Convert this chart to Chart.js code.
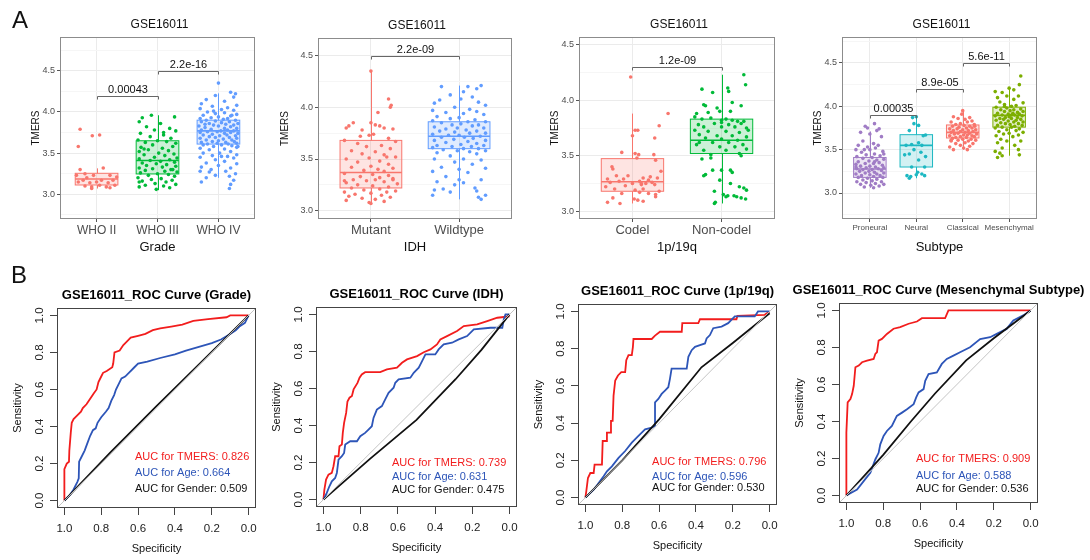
<!DOCTYPE html>
<html>
<head>
<meta charset="utf-8">
<script src="https://cdn.jsdelivr.net/npm/chart.js@4.4.0/dist/chart.umd.min.js"></script>
<style>
    body { margin: 0; background: #fff; width: 1090px; height: 560px; position: relative; overflow: hidden; }
    canvas { position: absolute; left: 0; top: 0; }
</style>
</head>
<body>
<canvas id="a1" width="1090" height="560"></canvas>
<canvas id="a2" width="1090" height="560"></canvas>
<canvas id="a3" width="1090" height="560"></canvas>
<canvas id="a4" width="1090" height="560"></canvas>
<canvas id="b1" width="1090" height="560"></canvas>
<canvas id="b2" width="1090" height="560"></canvas>
<canvas id="b3" width="1090" height="560"></canvas>
<canvas id="b4" width="1090" height="560"></canvas>
<script>
// ---------- A: TMERS boxplots ----------
var yMajor = [3.0, 3.5, 4.0, 4.5];
var yMinor = [2.75, 3.25, 3.75, 4.25, 4.75];

// box stats: [lower whisker, q1, median, q3, upper whisker]
var gradeCats = ['WHO II', 'WHO III', 'WHO IV'];
var gradeColors = ['#F8766D', '#00BA38', '#619CFF'];
var gradeBox = [[3.07, 3.113, 3.186, 3.255, 3.315], [3.05, 3.247, 3.41, 3.65, 3.96], [3.2, 3.61, 3.77, 3.9, 4.225]];
var gradeSig = [[1, 2, 4.197, '0.00043'], [2, 3, 4.5, '2.2e-16']];
// points: [jitter, TMERS]
var whoII = [[-0.27,3.79],[-0.3,3.58],[-0.07,3.71],[0.05,3.72],[-0.27,3.3],[0.11,3.32],[-0.19,3.25],[-0.33,3.23],[-0.05,3.23],[0.22,3.23],[-0.22,3.17],[-0.3,3.15],[-0.11,3.14],[0,3.15],[0.08,3.17],[0.19,3.14],[0.27,3.17],[-0.19,3.1],[-0.08,3.09],[0.05,3.11],[0.16,3.09],[0.3,3.11],[-0.08,3.07],[0.22,3.08],[-0.16,3.2],[0.33,3.21]];
var whoIII = [[-0.25,3.93],[-0.1,3.96],[0.28,3.94],[-0.3,3.88],[0.05,3.86],[-0.18,3.82],[0.2,3.8],[-0.05,3.78],[0.3,3.77],[-0.28,3.74],[0.1,3.72],[-0.12,3.7],[0.22,3.68],[-0.32,3.66],[0,3.65],[0.15,3.64],[-0.2,3.63],[0.3,3.62],[-0.08,3.6],[0.25,3.58],[-0.27,3.57],[0.08,3.56],[-0.15,3.54],[0.18,3.53],[-0.3,3.52],[0.02,3.5],[0.27,3.49],[-0.22,3.48],[0.12,3.47],[-0.05,3.45],[0.32,3.44],[-0.3,3.43],[0.2,3.42],[-0.12,3.41],[0.05,3.4],[0.28,3.39],[-0.25,3.38],[-0.02,3.37],[0.15,3.36],[-0.18,3.35],[0.3,3.34],[0.08,3.33],[-0.3,3.32],[-0.08,3.31],[0.22,3.3],[-0.2,3.29],[0.12,3.28],[0.32,3.27],[-0.28,3.26],[0,3.25],[0.18,3.24],[-0.15,3.23],[0.28,3.22],[-0.32,3.2],[0.06,3.19],[-0.1,3.18],[0.24,3.17],[-0.25,3.16],[0.14,3.15],[-0.04,3.13],[0.3,3.12],[-0.2,3.11],[0.1,3.1],[-0.3,3.09],[0.2,3.08],[-0.02,3.06],[0.25,3.3],[-0.22,3.55],[0.1,3.75],[-0.3,3.15]];
var whoIV = [[0,4.35],[0.2,4.24],[0.28,4.22],[-0.05,4.2],[0.25,4.18],[-0.2,4.15],[0.1,4.13],[-0.28,4.1],[0.3,4.08],[-0.1,4.07],[0.15,4.05],[-0.3,4.04],[0.05,4.03],[0.25,4.02],[-0.18,4],[0.1,3.99],[-0.05,3.98],[0.3,3.97],[-0.25,3.96],[0.2,3.95],[0,3.94],[-0.12,3.93],[0.15,3.92],[-0.3,3.92],[0.08,3.91],[0.28,3.9],[-0.2,3.9],[-0.05,3.89],[0.18,3.88],[-0.28,3.88],[0.05,3.87],[0.32,3.86],[-0.15,3.86],[0.12,3.85],[-0.08,3.84],[0.25,3.84],[-0.32,3.83],[0,3.83],[0.2,3.82],[-0.22,3.81],[0.1,3.8],[0.3,3.8],[-0.12,3.79],[0.15,3.78],[-0.28,3.78],[0.04,3.77],[0.25,3.77],[-0.18,3.76],[-0.02,3.76],[0.2,3.75],[-0.3,3.75],[0.1,3.74],[0.32,3.74],[-0.1,3.73],[0.14,3.72],[-0.25,3.72],[0.02,3.71],[0.28,3.71],[-0.15,3.7],[0.18,3.69],[-0.05,3.69],[0.3,3.68],[-0.3,3.68],[0.08,3.67],[-0.2,3.66],[0.22,3.66],[0,3.65],[-0.1,3.64],[0.26,3.64],[-0.28,3.63],[0.12,3.63],[-0.02,3.62],[0.3,3.62],[-0.18,3.61],[0.16,3.61],[0.05,3.6],[-0.25,3.6],[0.22,3.59],[-0.08,3.58],[0.3,3.57],[-0.3,3.56],[0.1,3.55],[-0.15,3.54],[0.2,3.52],[-0.25,3.5],[0.02,3.5],[0.3,3.48],[-0.1,3.47],[0.15,3.46],[-0.3,3.45],[0.25,3.44],[-0.05,3.42],[0.1,3.4],[-0.2,3.38],[0.3,3.37],[0,3.35],[-0.28,3.33],[0.2,3.32],[-0.12,3.3],[0.12,3.28],[-0.3,3.28],[0.28,3.25],[-0.05,3.23],[0.18,3.22],[-0.2,3.2],[0.25,3.17],[-0.28,3.15],[0.2,3.12],[0.18,3.07],[-0.15,3.27],[0.05,3.46],[0.32,3.58],[-0.22,3.85],[0.22,3.96],[-0.08,4.01]];

var idhCats = ['Mutant', 'Wildtype'];
var idhColors = ['#F8766D', '#619CFF'];
var idhBox = [[3.07, 3.22, 3.37, 3.68, 4.36], [3.11, 3.6, 3.72, 3.86, 4.21]];
var idhSig = [[1, 2, 4.5, '2.2e-09']];
var mutant = [[0,4.35],[0.2,4.08],[0.23,4.02],[0.22,4],[0.08,3.95],[-0.25,3.82],[-0.2,3.85],[-0.28,3.8],[0,3.85],[0.05,3.83],[0.1,3.82],[0.15,3.8],[0.25,3.79],[-0.1,3.78],[0.03,3.74],[-0.02,3.73],[-0.12,3.72],[0.2,3.7],[-0.3,3.68],[0.28,3.67],[-0.15,3.65],[0.12,3.63],[-0.05,3.62],[0.22,3.6],[-0.22,3.58],[0.05,3.57],[-0.1,3.55],[0.15,3.54],[0.28,3.52],[-0.02,3.51],[-0.28,3.5],[0.1,3.48],[-0.15,3.47],[0.2,3.45],[0,3.43],[-0.22,3.42],[0.25,3.41],[0.08,3.4],[-0.08,3.39],[0.15,3.38],[-0.3,3.36],[0.02,3.35],[0.2,3.34],[-0.12,3.33],[0.1,3.32],[0.25,3.31],[-0.2,3.3],[0.05,3.3],[-0.05,3.29],[0.15,3.28],[-0.28,3.27],[0.3,3.26],[-0.15,3.25],[0.02,3.24],[0.2,3.23],[-0.22,3.22],[0.1,3.21],[-0.08,3.2],[0.28,3.19],[-0.3,3.18],[0.18,3.18],[0,3.17],[-0.18,3.16],[0.12,3.15],[-0.25,3.14],[0.22,3.13],[-0.1,3.12],[0.05,3.11],[-0.28,3.1],[0.15,3.09],[-0.02,3.08],[0,3.07],[0.25,3.3],[-0.3,3.29],[0.18,3.52]];
var wildtype = [[-0.2,4.2],[0.1,4.2],[0.25,4.21],[0.2,4.18],[0.05,4.15],[-0.1,4.12],[0.15,4.1],[0.02,4.08],[-0.22,4.07],[0.22,4.05],[-0.28,4.04],[0.3,4.02],[-0.05,4],[0.12,3.98],[-0.3,3.97],[0.2,3.96],[-0.15,3.95],[0.05,3.94],[0.28,3.93],[-0.25,3.91],[0,3.9],[-0.1,3.89],[0.18,3.88],[-0.3,3.87],[0.1,3.86],[0.3,3.86],[-0.2,3.85],[0.02,3.84],[-0.08,3.83],[0.22,3.83],[0.15,3.82],[-0.28,3.81],[-0.02,3.8],[0.28,3.8],[-0.15,3.79],[0.08,3.78],[0.2,3.77],[-0.22,3.77],[-0.05,3.76],[0.3,3.75],[0.12,3.75],[-0.3,3.74],[0,3.73],[-0.12,3.73],[0.24,3.72],[0.06,3.71],[-0.2,3.71],[0.16,3.7],[-0.06,3.69],[0.3,3.68],[-0.28,3.68],[0.1,3.67],[-0.15,3.66],[0.2,3.65],[0.02,3.64],[-0.25,3.63],[0.28,3.63],[-0.08,3.62],[0.14,3.62],[-0.3,3.61],[0.05,3.6],[0.22,3.6],[-0.18,3.59],[0.3,3.58],[-0.02,3.58],[0.12,3.57],[-0.25,3.56],[0.2,3.55],[-0.1,3.53],[0.05,3.5],[-0.28,3.5],[0.25,3.49],[-0.05,3.47],[0.15,3.45],[-0.2,3.42],[0.3,3.41],[0,3.4],[-0.3,3.38],[0.1,3.37],[-0.15,3.33],[0.25,3.3],[-0.25,3.28],[0.05,3.27],[-0.05,3.25],[0.18,3.22],[-0.28,3.2],[0.2,3.19],[-0.1,3.18],[0.3,3.15],[0.22,3.13],[-0.3,3.15],[0.25,3.11],[0,3.3],[-0.18,3.21]];

var codelCats = ['Codel', 'Non-codel'];
var codelColors = ['#F8766D', '#00BA38'];
var codelBox = [[3.07, 3.18, 3.266, 3.474, 3.88], [3.07, 3.52, 3.64, 3.83, 4.23]];
var codelSig = [[1, 2, 4.298, '1.2e-09']];
var codel = [[-0.02,4.21],[0.4,3.88],[0.3,3.77],[0.03,3.73],[0.06,3.73],[0,3.68],[0.25,3.66],[-0.12,3.53],[0.03,3.52],[0.07,3.51],[0.24,3.51],[0.26,3.46],[0.05,3.48],[-0.23,3.4],[-0.22,3.38],[-0.28,3.29],[-0.18,3.32],[-0.05,3.32],[0.12,3.3],[0.2,3.31],[0.28,3.3],[0.32,3.36],[-0.25,3.26],[-0.15,3.27],[0,3.25],[0.08,3.27],[0.18,3.28],[0.22,3.26],[-0.3,3.22],[-0.08,3.23],[0.1,3.24],[0.15,3.25],[0.25,3.24],[-0.2,3.2],[0.03,3.19],[0.12,3.2],[0.3,3.18],[-0.12,3.16],[0.08,3.17],[0.18,3.16],[0.26,3.15],[-0.22,3.12],[0.02,3.11],[0.06,3.1],[0.12,3.09],[0.26,3.13],[-0.28,3.08],[-0.14,3.07],[0.1,3.25],[-0.1,3.29]];
var nonCodel = [[0.25,4.23],[0.27,4.14],[-0.22,4.1],[0.07,4.11],[0.08,4.08],[-0.1,4.07],[0.12,3.98],[0.22,3.95],[-0.2,3.96],[-0.18,3.95],[-0.05,3.93],[-0.02,3.9],[0.1,3.9],[-0.28,3.88],[-0.15,3.89],[-0.3,3.85],[-0.22,3.83],[-0.12,3.84],[0,3.82],[0.05,3.83],[0.12,3.82],[0.18,3.81],[0.25,3.81],[-0.26,3.78],[-0.08,3.79],[0.08,3.78],[0.22,3.79],[-0.2,3.76],[0,3.76],[0.15,3.76],[0.28,3.75],[-0.3,3.73],[-0.15,3.72],[0.05,3.72],[0.2,3.71],[-0.25,3.69],[-0.05,3.68],[0.12,3.68],[0.28,3.67],[-0.18,3.66],[0,3.65],[0.18,3.64],[-0.1,3.62],[0.08,3.62],[0.24,3.6],[-0.28,3.6],[-0.02,3.58],[0.15,3.58],[0.28,3.56],[-0.2,3.55],[0.05,3.55],[0.2,3.52],[-0.12,3.51],[0.22,3.5],[-0.22,3.47],[-0.12,3.48],[-0.2,3.32],[-0.18,3.33],[0.1,3.37],[-0.1,3.37],[-0.02,3.28],[0.12,3.35],[0.1,3.25],[0.2,3.22],[0.25,3.21],[0.28,3.19],[-0.08,3.18],[0.02,3.15],[0.07,3.14],[0.14,3.14],[0.17,3.13],[0.22,3.12],[0.27,3.11],[0.05,3.13],[-0.07,3.08],[-0.08,3.07],[0,3.37],[-0.25,3.62],[0.3,3.73],[0,3.8]];

var subtypeCats = ['Proneural', 'Neural', 'Classical', 'Mesenchymal'];
var subtypeColors = ['#A07CC5', '#1DB8C2', '#F8766D', '#7CAE00'];
var subtypeBox = [[3.06, 3.18, 3.277, 3.41, 3.71], [3.17, 3.3, 3.55, 3.673, 3.9], [3.5, 3.635, 3.7, 3.785, 3.96], [3.43, 3.76, 3.896, 3.99, 4.2]];
var subtypeSig = [[1, 2, 3.9, '0.00035'], [2, 3, 4.2, '8.9e-05'], [3, 4, 4.5, '5.6e-11']];
var proneural = [[0.1,3.8],[-0.1,3.77],[-0.05,3.75],[0.2,3.74],[0.15,3.72],[-0.2,3.7],[0,3.68],[0.25,3.65],[-0.15,3.6],[0.08,3.57],[-0.25,3.55],[0.18,3.55],[-0.05,3.53],[0.12,3.52],[-0.3,3.5],[0,3.5],[0.28,3.48],[-0.18,3.47],[0.1,3.45],[-0.08,3.44],[0.22,3.43],[-0.28,3.42],[0.05,3.41],[-0.15,3.4],[0.3,3.39],[0.15,3.38],[-0.02,3.37],[-0.25,3.36],[0.2,3.35],[0.08,3.34],[-0.1,3.34],[-0.3,3.33],[0.27,3.32],[0,3.31],[-0.2,3.31],[0.12,3.3],[0.3,3.29],[-0.08,3.29],[-0.28,3.28],[0.18,3.28],[0.05,3.27],[-0.15,3.27],[0.25,3.26],[-0.02,3.25],[-0.22,3.25],[0.1,3.24],[0.3,3.23],[-0.1,3.23],[-0.3,3.22],[0.15,3.22],[0,3.21],[-0.18,3.2],[0.22,3.2],[0.08,3.19],[-0.25,3.18],[0.28,3.18],[-0.05,3.17],[0.15,3.16],[-0.15,3.15],[0.05,3.14],[0.25,3.13],[-0.28,3.13],[-0.08,3.12],[0.12,3.11],[0.3,3.1],[-0.2,3.1],[0.02,3.09],[0.2,3.08],[-0.12,3.07],[0.08,3.06],[0.1,3.36],[-0.12,3.5],[0.3,3.45],[-0.3,3.3]];
var neural = [[0,3.88],[-0.08,3.87],[-0.05,3.8],[0.05,3.78],[-0.15,3.72],[0.2,3.67],[0.15,3.66],[-0.22,3.55],[-0.1,3.56],[0.05,3.58],[0.12,3.55],[-0.05,3.5],[-0.15,3.45],[0.1,3.47],[0.2,3.42],[-0.25,3.44],[0.05,3.38],[-0.1,3.3],[0.18,3.3],[0.03,3.24],[-0.2,3.2],[-0.12,3.19],[0.12,3.22],[-0.15,3.17],[0.18,3.2],[0,3.21]];
var classical = [[0,3.95],[-0.02,3.91],[-0.2,3.88],[0.15,3.87],[-0.1,3.86],[0.05,3.85],[0.2,3.83],[-0.25,3.82],[0.1,3.82],[-0.05,3.8],[-0.15,3.79],[0.25,3.79],[0.03,3.78],[-0.22,3.77],[0.15,3.77],[-0.08,3.76],[0.2,3.75],[0.08,3.75],[-0.28,3.74],[-0.12,3.74],[0,3.73],[0.28,3.73],[-0.2,3.72],[0.12,3.72],[-0.05,3.71],[0.22,3.71],[0.05,3.7],[-0.25,3.7],[-0.1,3.69],[0.15,3.69],[0.3,3.68],[-0.18,3.68],[0.02,3.67],[0.1,3.67],[-0.28,3.66],[0.2,3.66],[-0.05,3.65],[0.25,3.65],[-0.15,3.64],[0.08,3.64],[-0.22,3.63],[0.18,3.62],[0,3.62],[-0.1,3.61],[0.28,3.61],[0.12,3.6],[-0.25,3.6],[0.05,3.58],[-0.15,3.57],[0.22,3.57],[-0.05,3.55],[0.15,3.54],[-0.28,3.53],[0.02,3.52],[-0.2,3.5],[0.1,3.5],[-0.25,3.61],[0.26,3.77]];
var mesenchymal = [[0.25,4.35],[0.22,4.25],[0,4.21],[0.1,4.19],[-0.3,4.17],[-0.15,4.16],[-0.05,4.12],[0.2,4.12],[-0.25,4.1],[0.1,4.08],[-0.2,4.05],[0.3,4.04],[-0.1,4.02],[0.15,4.01],[0.05,4],[-0.28,3.99],[-0.05,3.98],[0.25,3.97],[0.1,3.96],[-0.18,3.96],[0.02,3.95],[0.3,3.94],[-0.1,3.94],[0.18,3.93],[-0.25,3.92],[0.08,3.92],[-0.02,3.91],[0.22,3.91],[-0.15,3.9],[0.12,3.9],[0.28,3.89],[-0.3,3.89],[0,3.88],[-0.08,3.87],[0.18,3.87],[-0.2,3.86],[0.05,3.86],[0.25,3.85],[-0.12,3.85],[0.15,3.84],[-0.28,3.84],[-0.02,3.83],[0.3,3.82],[0.1,3.82],[-0.18,3.81],[0.2,3.8],[-0.08,3.8],[0.02,3.79],[-0.25,3.78],[0.28,3.78],[0.12,3.77],[-0.15,3.76],[0.05,3.76],[-0.3,3.75],[0.22,3.74],[-0.05,3.73],[0.15,3.72],[-0.22,3.71],[0.3,3.7],[0,3.69],[-0.12,3.68],[0.2,3.67],[-0.28,3.66],[0.08,3.65],[-0.18,3.62],[0.25,3.6],[-0.05,3.6],[-0.25,3.58],[0.12,3.55],[-0.15,3.52],[0.2,3.5],[-0.3,3.48],[-0.2,3.46],[-0.15,3.43],[0.22,3.44],[-0.25,3.41],[0.05,3.9],[-0.1,4]];

// ---------- B: ROC curves, [specificity, sensitivity] ----------
var rocTicks = [1.0, 0.8, 0.6, 0.4, 0.2, 0.0];
var rocDiagonal = [[1.04, -0.04], [-0.04, 1.04]];
var rocNames = ['TMERS', 'Age', 'Gender'];

var gradeTmers = [[1,0],[1,0.17],[0.987,0.2],[0.975,0.21],[0.973,0.27],[0.965,0.37],[0.96,0.42],[0.95,0.44],[0.93,0.46],[0.91,0.48],[0.9,0.5],[0.88,0.52],[0.86,0.55],[0.84,0.58],[0.825,0.6],[0.815,0.64],[0.8,0.67],[0.79,0.69],[0.77,0.7],[0.74,0.72],[0.735,0.74],[0.728,0.8],[0.7,0.81],[0.68,0.84],[0.66,0.86],[0.64,0.88],[0.6,0.89],[0.56,0.9],[0.52,0.92],[0.48,0.93],[0.42,0.94],[0.36,0.95],[0.3,0.97],[0.22,0.98],[0.12,0.99],[0.1,1],[0,1]];
var gradeAge = [[1,0],[0.97,0.03],[0.95,0.06],[0.93,0.1],[0.922,0.12],[0.92,0.21],[0.91,0.23],[0.89,0.27],[0.875,0.31],[0.86,0.35],[0.845,0.38],[0.83,0.39],[0.82,0.42],[0.8,0.45],[0.775,0.48],[0.76,0.5],[0.745,0.54],[0.73,0.57],[0.72,0.6],[0.7,0.64],[0.69,0.66],[0.67,0.67],[0.65,0.69],[0.62,0.72],[0.6,0.74],[0.55,0.75],[0.48,0.77],[0.4,0.79],[0.34,0.81],[0.27,0.83],[0.2,0.85],[0.15,0.87],[0.1,0.9],[0.07,0.92],[0.05,0.94],[0.02,0.96],[0.01,0.98],[0,1]];
var gradeGender = [[1,0],[0.75,0.26],[0.5,0.51],[0.25,0.755],[0,1]];
var gradeAuc = [0.826, 0.664, 0.509];

var idhTmers = [[1,0],[0.995,0.054],[0.986,0.108],[0.973,0.135],[0.955,0.144],[0.946,0.18],[0.937,0.234],[0.919,0.234],[0.914,0.288],[0.901,0.297],[0.896,0.36],[0.889,0.414],[0.878,0.468],[0.871,0.53],[0.86,0.55],[0.847,0.559],[0.838,0.595],[0.817,0.63],[0.806,0.658],[0.794,0.676],[0.776,0.688],[0.695,0.688],[0.659,0.703],[0.605,0.712],[0.578,0.739],[0.551,0.757],[0.497,0.775],[0.461,0.796],[0.425,0.811],[0.39,0.838],[0.372,0.865],[0.336,0.883],[0.282,0.91],[0.246,0.937],[0.174,0.946],[0.12,0.964],[0.066,0.982],[0.03,0.986],[0,0.99]];
var idhAge = [[1,0],[0.982,0.036],[0.968,0.072],[0.955,0.099],[0.937,0.117],[0.928,0.144],[0.919,0.216],[0.901,0.234],[0.889,0.252],[0.883,0.297],[0.856,0.315],[0.82,0.315],[0.802,0.342],[0.776,0.36],[0.758,0.378],[0.74,0.396],[0.731,0.441],[0.713,0.486],[0.686,0.505],[0.668,0.541],[0.65,0.577],[0.623,0.604],[0.614,0.631],[0.596,0.649],[0.533,0.658],[0.515,0.685],[0.488,0.712],[0.47,0.748],[0.452,0.784],[0.399,0.784],[0.381,0.811],[0.354,0.838],[0.309,0.847],[0.273,0.865],[0.228,0.883],[0.192,0.919],[0.102,0.928],[0.039,0.928],[0.031,0.973],[0.022,1],[0,1]];
var idhGender = [[1,0],[0.75,0.22],[0.5,0.43],[0.29,0.65],[0.15,0.81],[0,1]];
var idhAuc = [0.739, 0.631, 0.475];

var codelTmers = [[1,0],[0.995,0.033],[0.986,0.105],[0.973,0.132],[0.955,0.132],[0.95,0.177],[0.91,0.177],[0.906,0.304],[0.888,0.304],[0.883,0.349],[0.865,0.349],[0.861,0.412],[0.852,0.412],[0.847,0.548],[0.838,0.629],[0.823,0.656],[0.805,0.674],[0.784,0.674],[0.778,0.738],[0.766,0.765],[0.748,0.765],[0.742,0.81],[0.739,0.852],[0.64,0.852],[0.622,0.87],[0.595,0.891],[0.477,0.891],[0.474,0.937],[0.387,0.937],[0.378,0.958],[0.18,0.958],[0.175,0.976],[0.027,0.982],[0,1]];
var codelAge = [[1,0],[0.955,0.042],[0.928,0.078],[0.901,0.114],[0.883,0.141],[0.856,0.168],[0.82,0.213],[0.784,0.25],[0.748,0.295],[0.712,0.331],[0.676,0.367],[0.64,0.376],[0.622,0.385],[0.622,0.512],[0.604,0.53],[0.586,0.557],[0.568,0.575],[0.55,0.593],[0.541,0.638],[0.532,0.693],[0.45,0.693],[0.441,0.756],[0.423,0.792],[0.405,0.81],[0.378,0.819],[0.351,0.828],[0.342,0.855],[0.324,0.873],[0.306,0.91],[0.261,0.919],[0.225,0.937],[0.189,0.973],[0.081,0.973],[0.063,1],[0,1]];
var codelGender = [[1,0],[0.8,0.2],[0.6,0.42],[0.37,0.7],[0.2,0.83],[0,0.99]];
var codelAuc = [0.796, 0.596, 0.530];

var mesTmers = [[1,0],[1,0.34],[0.993,0.503],[0.978,0.521],[0.969,0.548],[0.96,0.593],[0.951,0.693],[0.933,0.702],[0.915,0.72],[0.888,0.729],[0.852,0.738],[0.843,0.765],[0.834,0.774],[0.825,0.837],[0.807,0.846],[0.78,0.873],[0.744,0.901],[0.708,0.91],[0.662,0.928],[0.617,0.94],[0.59,0.958],[0.464,0.958],[0.446,1],[0,1]];
var mesAge = [[1,0],[0.942,0.033],[0.906,0.078],[0.87,0.123],[0.843,0.195],[0.825,0.231],[0.816,0.277],[0.798,0.322],[0.78,0.349],[0.753,0.376],[0.726,0.43],[0.698,0.448],[0.671,0.466],[0.635,0.494],[0.621,0.53],[0.608,0.557],[0.581,0.575],[0.572,0.62],[0.554,0.656],[0.509,0.665],[0.482,0.711],[0.455,0.738],[0.419,0.756],[0.383,0.774],[0.329,0.801],[0.274,0.845],[0.22,0.855],[0.184,0.873],[0.13,0.9],[0.094,0.946],[0.04,0.973],[0,1]];
var mesGender = [[1,0],[0.8,0.22],[0.65,0.4],[0.52,0.55],[0.35,0.73],[0.2,0.85],[0,1]];
var mesAuc = [0.909, 0.588, 0.536];

var SANS = '"Liberation Sans", Arial, sans-serif';

function rgba(hex, a) {
    var n = parseInt(hex.slice(1), 16);
    return 'rgba(' + (n >> 16) + ',' + ((n >> 8) & 255) + ',' + (n & 255) + ',' + a + ')';
}

function text(ctx, str, x, y, font, color, align, rot) {
    ctx.save();
    ctx.translate(x, y);
    if (rot) ctx.rotate(rot);
    ctx.font = font;
    ctx.fillStyle = color;
    ctx.textAlign = align || 'center';
    ctx.textBaseline = 'middle';
    ctx.fillText(str, 0, 0);
    ctx.restore();
}

function line(ctx, x0, y0, x1, y1) {
    ctx.beginPath();
    ctx.moveTo(x0, y0);
    ctx.lineTo(x1, y1);
    ctx.stroke();
}

function isMajor(v) {
    return yMajor.indexOf(v) >= 0;
}

function boxPanel(id, p) {
    var a = p.area;
    var n = p.cats.length;
    var datasets = p.pts.map(function (grp, g) {
        return {
            data: grp.map(function (q) { return { x: g + 1 + q[0], y: q[1] }; }),
            backgroundColor: p.colors[g],
            borderWidth: 0,
            pointRadius: 1.8
        };
    });

    var deco = {
        id: 'deco_' + id,
        beforeDatasetsDraw: function (chart) {
            var ctx = chart.ctx, xs = chart.scales.x, ys = chart.scales.y;
            p.box.forEach(function (b, g) {
                var c = g + 1;
                var x0 = xs.getPixelForValue(c - 0.35), x1 = xs.getPixelForValue(c + 0.35), xm = Math.round(xs.getPixelForValue(c)) + 0.5;
                var y = b.map(function (v) { return ys.getPixelForValue(v); });
                ctx.save();
                ctx.strokeStyle = p.colors[g];
                ctx.lineWidth = 1;
                line(ctx, xm, y[0], xm, y[1]);
                line(ctx, xm, y[3], xm, y[4]);
                ctx.fillStyle = rgba(p.colors[g], 0.2);
                ctx.fillRect(x0, y[3], x1 - x0, y[1] - y[3]);
                ctx.strokeRect(x0, y[3], x1 - x0, y[1] - y[3]);
                ctx.lineWidth = 1.6;
                line(ctx, x0, y[2], x1, y[2]);
                ctx.restore();
            });
        },
        afterDraw: function (chart) {
            var ctx = chart.ctx, xs = chart.scales.x, ys = chart.scales.y, ca = chart.chartArea;
            ctx.save();
            ctx.strokeStyle = '#8C8C8C';
            ctx.lineWidth = 1;
            ctx.strokeRect(ca.left + 0.5, ca.top + 0.5, ca.right - ca.left - 1, ca.bottom - ca.top - 1);
            // comparison brackets
            ctx.strokeStyle = '#666';
            p.sig.forEach(function (s) {
                var xa = Math.round(xs.getPixelForValue(s[0])) + 0.5, xb = Math.round(xs.getPixelForValue(s[1])) + 0.5;
                var yy = Math.round(ys.getPixelForValue(s[2])) + 0.5;
                ctx.beginPath();
                ctx.moveTo(xa, yy + 3);
                ctx.lineTo(xa, yy);
                ctx.lineTo(xb, yy);
                ctx.lineTo(xb, yy + 3);
                ctx.stroke();
                text(ctx, s[3], (xa + xb) / 2, yy - 7, '11px ' + SANS, '#111');
            });
            ctx.restore();
            var cx = (ca.left + ca.right) / 2;
            text(ctx, 'GSE16011', cx + 2, ca.top - 12, '12px ' + SANS, '#111');
            text(ctx, p.xTitle, cx, ca.bottom + 28, '13px ' + SANS, '#111');
            text(ctx, 'TMERS', ca.left - p.yTitleDx, (ca.top + ca.bottom) / 2, '10px ' + SANS, '#111', 'center', -Math.PI / 2);
            if (p.letter) text(ctx, p.letter, 12, 21, '24px ' + SANS, '#111', 'left');
        }
    };

    new Chart(document.getElementById(id), {
        type: 'scatter',
        data: { datasets: datasets },
        options: {
            responsive: false,
            animation: false,
            events: [],
            layout: { padding: { left: a.l - 40, top: a.t, right: 1090 - a.r, bottom: 560 - a.b - 22 } },
            plugins: { legend: { display: false }, tooltip: { enabled: false } },
            scales: {
                x: {
                    type: 'linear',
                    min: 0.4,
                    max: n + 0.6,
                    afterBuildTicks: function (s) {
                        s.ticks = p.cats.map(function (c, i) { return { value: i + 1 }; });
                    },
                    afterFit: function (s) { s.height = 22; },
                    ticks: {
                        autoSkip: false,
                        maxRotation: 0,
                        padding: 1,
                        color: '#4D4D4D',
                        font: { family: SANS, size: p.catSize },
                        callback: function (v) { return p.cats[Math.round(v) - 1]; }
                    },
                    grid: { color: '#EBEBEB', tickColor: '#555', tickLength: 3 },
                    border: { display: false }
                },
                y: {
                    type: 'linear',
                    min: p.yMin,
                    max: p.yMax,
                    afterBuildTicks: function (s) {
                        s.ticks = yMajor.concat(yMinor).filter(function (v) { return v >= p.yMin && v <= p.yMax; })
                            .sort(function (u, w) { return u - w; })
                            .map(function (v) { return { value: v }; });
                    },
                    afterFit: function (s) { s.width = 40; },
                    ticks: {
                        autoSkip: false,
                        padding: 2,
                        color: '#4D4D4D',
                        font: { family: SANS, size: 9 },
                        callback: function (v) { return isMajor(v) ? v.toFixed(1) : ''; }
                    },
                    grid: {
                        color: function (c) { return c.tick && isMajor(c.tick.value) ? '#EBEBEB' : '#F6F6F6'; },
                        tickColor: function (c) { return c.tick && isMajor(c.tick.value) ? '#555' : 'rgba(0,0,0,0)'; },
                        tickLength: 3
                    },
                    border: { display: false }
                }
            }
        },
        plugins: [deco]
    });
}

function rocPanel(id, p) {
    var a = p.area;
    var toXY = function (arr) { return arr.map(function (q) { return { x: q[0], y: q[1] }; }); };
    var curve = function (arr, color, w) {
        return { data: toXY(arr), borderColor: color, borderWidth: w, showLine: true, pointRadius: 0, tension: 0, fill: false };
    };
    var colors = ['#F21D1D', '#2D55B8', '#111111'];
    var deco = {
        id: 'deco_' + id,
        afterDraw: function (chart) {
            var ctx = chart.ctx, xs = chart.scales.x, ys = chart.scales.y, ca = chart.chartArea;
            ctx.save();
            ctx.strokeStyle = '#444';
            ctx.lineWidth = 1;
            ctx.strokeRect(ca.left + 0.5, ca.top + 0.5, ca.right - ca.left - 1, ca.bottom - ca.top - 1);
            ctx.restore();
            var cx = (ca.left + ca.right) / 2;
            text(ctx, p.title, cx, ca.top - 13, 'bold 13px ' + SANS, '#000');
            text(ctx, 'Specificity', cx, ca.bottom + 41, '11px ' + SANS, '#111');
            text(ctx, 'Sensitivity', ca.left - 39, (ca.top + ca.bottom) / 2, '11px ' + SANS, '#111', 'center', -Math.PI / 2);
            p.auc.forEach(function (v, i) {
                text(ctx, 'AUC for ' + rocNames[i] + ': ' + v.toFixed(3), xs.getPixelForValue(p.legendX), ys.getPixelForValue(p.legendY[i]),
                    '11px ' + SANS, colors[i], 'left');
            });
            if (p.letter) text(ctx, p.letter, 11, 276, '24px ' + SANS, '#111', 'left');
        }
    };
    var axis = function (horizontal) {
        return {
            type: 'linear',
            min: -0.04,
            max: 1.04,
            reverse: horizontal,
            afterBuildTicks: function (s) { s.ticks = rocTicks.map(function (v) { return { value: v }; }); },
            afterFit: function (s) { if (horizontal) s.height = 32; else s.width = 32; },
            ticks: {
                autoSkip: false,
                minRotation: horizontal ? 0 : 90,
                maxRotation: horizontal ? 0 : 90,
                crossAlign: 'center',
                padding: horizontal ? 14 : 2,
                color: '#222',
                font: { family: SANS, size: 11.5 },
                callback: function (v) { return v.toFixed(1); }
            },
            grid: { drawOnChartArea: false, drawTicks: true, tickLength: 7, color: '#444' },
            border: { display: false }
        };
    };
    new Chart(document.getElementById(id), {
        type: 'scatter',
        data: {
            datasets: [
                curve(rocDiagonal, '#C4C4C4', 1),
                curve(p.gender, colors[2], 1.8),
                curve(p.age, colors[1], 1.8),
                curve(p.tmers, colors[0], 1.8)
            ]
        },
        options: {
            responsive: false,
            animation: false,
            events: [],
            layout: { padding: { left: a.l - 32, top: a.t, right: 1090 - a.r, bottom: 560 - a.b - 32 } },
            plugins: { legend: { display: false }, tooltip: { enabled: false } },
            scales: { x: axis(true), y: axis(false) }
        },
        plugins: [deco]
    });
}

boxPanel('a1', { area: { l: 60, t: 37, r: 255, b: 219 }, yMin: 2.70, yMax: 4.91, cats: gradeCats, colors: gradeColors,
    box: gradeBox, pts: [whoII, whoIII, whoIV], sig: gradeSig, xTitle: 'Grade', catSize: 12, yTitleDx: 24, letter: 'A' });
boxPanel('a2', { area: { l: 318, t: 38, r: 512, b: 219 }, yMin: 2.92, yMax: 4.67, cats: idhCats, colors: idhColors,
    box: idhBox, pts: [mutant, wildtype], sig: idhSig, xTitle: 'IDH', catSize: 13, yTitleDx: 33 });
boxPanel('a3', { area: { l: 579, t: 37, r: 775, b: 219 }, yMin: 2.93, yMax: 4.57, cats: codelCats, colors: codelColors,
    box: codelBox, pts: [codel, nonCodel], sig: codelSig, xTitle: '1p/19q', catSize: 13, yTitleDx: 24 });
boxPanel('a4', { area: { l: 842, t: 37, r: 1037, b: 219 }, yMin: 2.70, yMax: 4.80, cats: subtypeCats, colors: subtypeColors,
    box: subtypeBox, pts: [proneural, neural, classical, mesenchymal], sig: subtypeSig, xTitle: 'Subtype', catSize: 8, yTitleDx: 24 });

rocPanel('b1', { area: { l: 57, t: 308, r: 256, b: 508 }, title: 'GSE16011_ROC Curve (Grade)', tmers: gradeTmers, age: gradeAge,
    gender: gradeGender, auc: gradeAuc, legendX: 0.617, legendY: [0.235, 0.149, 0.062], letter: 'B' });
rocPanel('b2', { area: { l: 316, t: 307, r: 517, b: 507 }, title: 'GSE16011_ROC Curve (IDH)', tmers: idhTmers, age: idhAge,
    gender: idhGender, auc: idhAuc, legendX: 0.632, legendY: [0.198, 0.122, 0.052] });
rocPanel('b3', { area: { l: 578, t: 304, r: 777, b: 505 }, title: 'GSE16011_ROC Curve (1p/19q)', tmers: codelTmers, age: codelAge,
    gender: codelGender, auc: codelAuc, legendX: 0.638, legendY: [0.191, 0.110, 0.051] });
rocPanel('b4', { area: { l: 839, t: 303, r: 1038, b: 503 }, title: 'GSE16011_ROC Curve (Mesenchymal Subtype)', tmers: mesTmers, age: mesAge,
    gender: mesGender, auc: mesAuc, legendX: 0.622, legendY: [0.198, 0.106, 0.036] });
</script>
</body>
</html>
